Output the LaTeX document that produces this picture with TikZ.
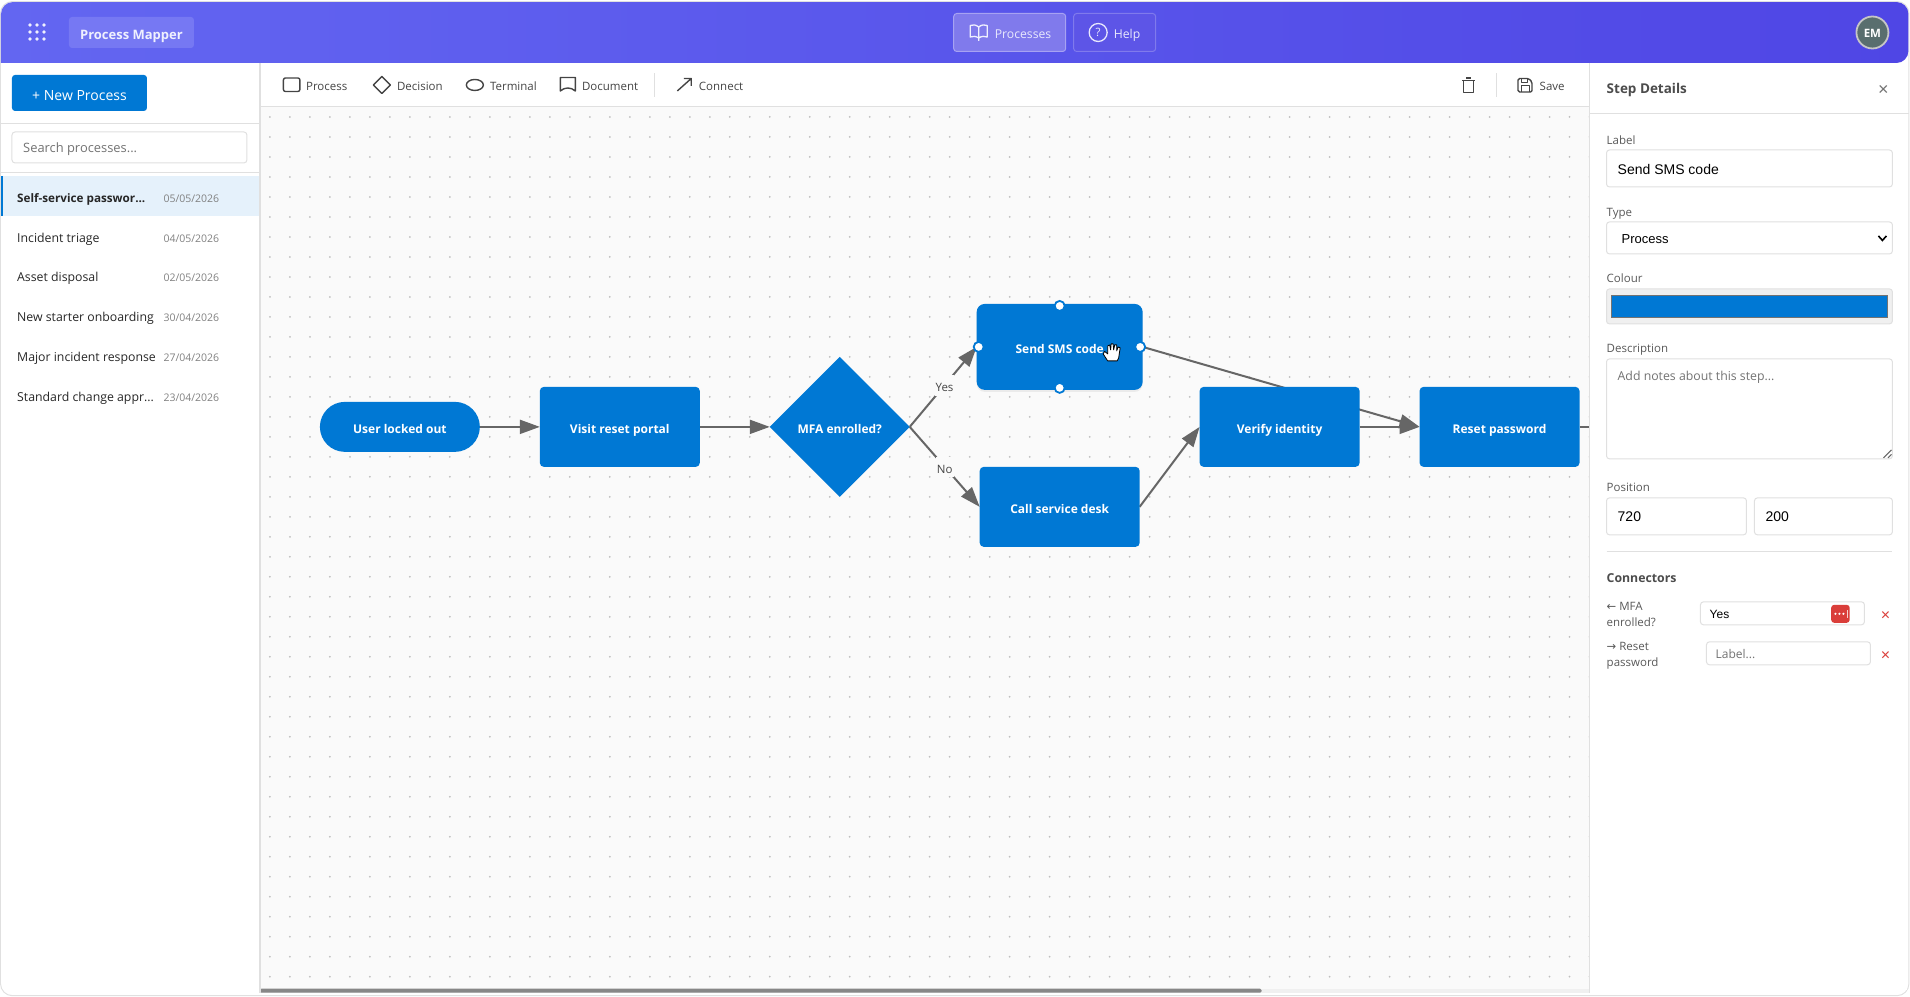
\documentclass[tikz,border=0pt]{standalone}
\usepackage{fontspec}
\usepackage{tikz}
\usetikzlibrary{shapes.geometric, arrows.meta, shadows}
\setmainfont{Open Sans}
\newfontfamily\arialfont{Liberation Sans}
\newfontfamily\symfont{DejaVu Sans}
\newcommand{\fsz}[1]{\fontsize{#1}{#1}\selectfont}
\definecolor{headleft}{RGB}{99,102,241}
\definecolor{headright}{RGB}{79,70,229}
\definecolor{msblue}{RGB}{0,120,212}
\definecolor{canvasbg}{RGB}{250,250,250}
\definecolor{rulegrey}{RGB}{224,224,224}
\definecolor{wiregrey}{RGB}{102,102,102}
\definecolor{iconink}{RGB}{68,68,68}
\definecolor{alertred}{RGB}{218,62,58}
\pgfdeclarelayer{canvas}
\pgfdeclarelayer{wires}
\pgfsetlayers{canvas,wires,main}

\begin{document}
\begin{tikzpicture}[x=1pt, y=-1pt]
    % Define styles
    \tikzstyle{nudged} = [yshift=-2.4pt]
    \tikzstyle{flowbox} = [rectangle, rounded corners=4pt, minimum width=160pt, minimum height=80pt, inner sep=0pt, outer sep=0pt, fill=msblue, text=white, text height=13pt, text depth=0pt, font=\fsz{12}\bfseries]
    \tikzstyle{selectedbox} = [flowbox, rounded corners=8pt, minimum width=166pt, minimum height=86pt, drop shadow={opacity=0.12, shadow xshift=0pt, shadow yshift=-2pt}]
    \tikzstyle{flowterminal} = [flowbox, rounded corners=25pt, minimum height=50pt]
    \tikzstyle{flowdecision} = [diamond, aspect=1, minimum width=140pt, minimum height=140pt, inner sep=0pt, outer sep=0pt, fill=msblue, text=white, text height=13pt, text depth=0pt, font=\fsz{12}\bfseries]
    \tikzstyle{handle} = [circle, minimum size=10pt, inner sep=0pt, fill=white, draw=msblue, line width=1.8pt]
    \tikzstyle{arrow} = [line width=2pt, draw=wiregrey, -{Triangle[length=20pt, width=14pt]}]
    \tikzstyle{edgelabel} = [fill=canvasbg, inner xsep=1pt, inner ysep=4pt, text=iconink, text height=12.5pt, text depth=0pt, font=\fsz{11.5}]
    \tikzstyle{toolicon} = [draw=iconink, line width=1.4pt, line join=round]
    \tikzstyle{toolitem} = [nudged, anchor=mid west, inner sep=0pt, text=iconink, font=\fsz{11.5}]
    \tikzstyle{listitem} = [nudged, anchor=mid west, inner sep=0pt, text=black!85, font=\fsz{12.3}]
    \tikzstyle{listdate} = [nudged, anchor=mid east, inner sep=0pt, text=black!50, font=\fsz{10.5}]
    \tikzstyle{fieldlabel} = [nudged, anchor=mid west, inner sep=0pt, text=black!65, font=\fsz{11.5}]
    \tikzstyle{fieldvalue} = [nudged, anchor=mid west, inner sep=0pt, text=black, font=\arialfont\fsz{14}]
    \tikzstyle{fieldbox} = [draw=rulegrey, line width=1pt, rounded corners=3pt, fill=white]
    \tikzstyle{rule} = [draw=rulegrey, line width=1.2pt]
    \tikzstyle{removemark} = [nudged, inner sep=0pt, text=alertred, font=\arialfont\fsz{16}]

    % Canvas and its dots
    \begin{pgfonlayer}{canvas}
        \fill [canvasbg] (260,107) rectangle (1590,993);
        \foreach \dotx in {270,290,...,1590} {
            \foreach \doty in {117,137,...,977} {
                \fill [black!25] (\dotx,\doty) circle [radius=1pt];
            }
        }
    \end{pgfonlayer}

    % Scrollbar under the canvas
    \fill [black!6] (260,989) rectangle (1590,993);
    \fill [black!47, rounded corners=1.5pt] (260,989) rectangle (1262,993);

    % Frame of the window
    \draw [rulegrey, line width=1pt, rounded corners=12pt] (0.5,1.5) rectangle (1909.5,996);

    % Header bar
    \shade [left color=headleft, right color=headright] (1,63) {[rounded corners=12pt] -- (1,2) -- (1909,2) -- (1909,63)} -- cycle;
    \foreach \gridx in {30,37,44} {
        \foreach \gridy in {25,32,39} {
            \fill [white!90!headleft] (\gridx,\gridy) circle [radius=1.9pt];
        }
    }
    \node (titlepill) [rectangle, rounded corners=3pt, minimum width=125pt, minimum height=31pt, inner sep=0pt, fill=white!12!headleft, text=white!90!headleft, text height=14pt, text depth=0pt, font=\fsz{13}\bfseries] at (131.5,32.5) {Process Mapper};

    \node (processesbtn) [rectangle, rounded corners=3pt, minimum width=112pt, minimum height=38pt, fill=white!28!headright, draw=white!50!headright, line width=1pt] at (1010,32.5) {};
    \node (processeslabel) [nudged, anchor=mid west, inner sep=0pt, text=white!85!headleft, font=\fsz{12.2}] at (995,33) {Processes};
    \draw [white!90!headleft, line width=1.3pt, line join=round] (979,27) .. controls (976,24.5) and (973,24.5) .. (970.5,25.5) -- (970.5,37) .. controls (973,36) and (976,36) .. (979,38) .. controls (982,36) and (985,36) .. (987.5,37) -- (987.5,25.5) .. controls (985,24.5) and (982,24.5) .. (979,27) -- (979,41);

    \node (helpbtn) [rectangle, rounded corners=3pt, minimum width=82pt, minimum height=38pt, fill=white!8!headright, draw=white!28!headright, line width=1pt] at (1115,32.5) {};
    \node (helpicon) [circle, minimum size=18pt, inner sep=0pt, draw=white!85!headleft, line width=1.3pt, text=white!85!headleft, font=\fsz{11.5}] at (1098.5,32.5) {?};
    \node (helplabel) [nudged, anchor=mid west, inner sep=0pt, text=white!85!headleft, font=\fsz{12.2}] at (1114,33) {Help};

    \node (avatar) [circle, minimum size=32pt, inner sep=0pt, fill=black!45!teal!30!gray, draw=white!55!gray, line width=1.8pt, text=white, text height=10.8pt, text depth=0pt, font=\fsz{11.5}\bfseries] at (1873,32.5) {EM};

    % Sidebar
    \node (newprocess) [rectangle, rounded corners=3pt, minimum width=135pt, minimum height=36pt, inner sep=0pt, fill=msblue, text=white, text height=14.5pt, text depth=0pt, font=\fsz{14}] at (79.5,93) {+ New Process};
    \draw [rule] (1,123.5) -- (260,123.5);
    \node (searchbox) [fieldbox, minimum width=235pt, minimum height=31pt, inner sep=0pt] at (129.5,147.5) {};
    \node (searchtext) [nudged, anchor=mid west, inner sep=0pt, text=black!55, font=\fsz{12.9}] at (23,147.5) {Search processes...};
    \draw [rule, line width=0.8pt] (1,172) -- (260,172);
    \fill [msblue!10] (1,176) rectangle (260,216);
    \fill [msblue] (1,176) rectangle (3,216);
    \draw [rule] (260,63) -- (260,993);

    \node (item1) [listitem, font=\fsz{11.7}\bfseries] at (17,197) {Self-service passwor...};
    \node (item2) [listitem] at (17,237) {Incident triage};
    \node (item3) [listitem] at (17,277) {Asset disposal};
    \node (item4) [listitem] at (17,317) {New starter onboarding};
    \node (item5) [listitem] at (17,357) {Major incident response};
    \node (item6) [listitem] at (17,397) {Standard change appr...};

    \node (date1) [listdate] at (219.5,197) {05/05/2026};
    \node (date2) [listdate] at (219.5,237) {04/05/2026};
    \node (date3) [listdate] at (219.5,277) {02/05/2026};
    \node (date4) [listdate] at (219.5,317) {30/04/2026};
    \node (date5) [listdate] at (219.5,357) {27/04/2026};
    \node (date6) [listdate] at (219.5,397) {23/04/2026};

    % Toolbar
    \draw [rule] (260,106.5) -- (1590,106.5);
    \draw [toolicon, rounded corners=2pt] (283.5,78) rectangle (300,91.5);
    \node (toolprocess) [toolitem] at (306,85) {Process};
    \draw [toolicon] (382,76.5) -- (390.5,85) -- (382,93.5) -- (373.5,85) -- cycle;
    \node (tooldecision) [toolitem] at (397,85) {Decision};
    \draw [toolicon] (475,85) ellipse [x radius=8.5pt, y radius=5.5pt];
    \node (toolterminal) [toolitem] at (490,85) {Terminal};
    \draw [toolicon] (560.5,77.5) -- (575.5,77.5) -- (575.5,91) .. controls (571,87) and (565,87) .. (560.5,91) -- cycle;
    \node (tooldocument) [toolitem] at (582,85) {Document};
    \draw [rule, line width=0.8pt] (655,73) -- (655,97);
    \draw [toolicon] (677.5,91) -- (691.5,78.5) (684,78.5) -- (691.5,78.5) -- (691.5,86);
    \node (toolconnect) [toolitem] at (699,85) {Connect};

    \draw [toolicon] (1464,80.5) rectangle (1474,92.5) (1462.5,80.5) -- (1475.5,80.5) (1466.5,78) -- (1471.5,78);
    \draw [rule, line width=0.8pt] (1497,73) -- (1497,97);
    \draw [toolicon, rounded corners=1.5pt] (1518.5,78.5) -- (1529,78.5) -- (1532.5,82) -- (1532.5,92) -- (1518.5,92) -- cycle;
    \draw [toolicon, line width=1pt] (1521.5,92) -- (1521.5,86) -- (1529.5,86) -- (1529.5,92) (1521.5,78.5) -- (1521.5,83) -- (1527.5,83) -- (1527.5,78.5);
    \node (toolsave) [toolitem] at (1540,85) {Save};

    % Step details panel
    \fill [white] (1590.5,64) rectangle (1908,990);
    \draw [rule] (1590,63) -- (1590,993);
    \node (paneltitle) [nudged, anchor=mid west, inner sep=0pt, text=black!70, font=\fsz{13.5}\bfseries] at (1607,88) {Step Details};
    \node (panelclose) [nudged, inner sep=0pt, text=black!55, font=\arialfont\fsz{18}] at (1884,88) {×};
    \draw [rule] (1590,113.5) -- (1910,113.5);

    \node (labeltitle) [fieldlabel] at (1607,139) {Label};
    \node (labelbox) [fieldbox, minimum width=286pt, minimum height=37pt, inner sep=0pt] at (1750,168.5) {};
    \node (labelvalue) [fieldvalue] at (1618,169) {Send SMS code};

    \node (typetitle) [fieldlabel] at (1607,211) {Type};
    \node (typebox) [fieldbox, minimum width=286pt, minimum height=32pt, inner sep=0pt] at (1750,238) {};
    \node (typevalue) [fieldvalue, font=\arialfont\fsz{13}] at (1622,238.5) {Process};
    \draw [black, line width=1.6pt] (1879,236) -- (1883,240.5) -- (1887,236);

    \node (colourtitle) [fieldlabel] at (1607,278) {Colour};
    \node (colourbox) [fieldbox, fill=black!6, minimum width=286pt, minimum height=35pt, inner sep=0pt] at (1750,306.5) {};
    \node (colourswatch) [rectangle, fill=msblue, draw=black!55, line width=1pt, minimum width=276pt, minimum height=22pt, inner sep=0pt] at (1750,307) {};

    \node (desctitle) [fieldlabel] at (1607,348) {Description};
    \node (descbox) [fieldbox, minimum width=286pt, minimum height=100pt, inner sep=0pt] at (1750,409) {};
    \node (descvalue) [nudged, anchor=mid west, inner sep=0pt, text=black!55, font=\fsz{12.3}] at (1618,376) {Add notes about this step...};
    \draw [black!60, line width=1pt] (1884,458) -- (1892,450) (1888.5,458) -- (1892,454.5);

    \node (postitle) [fieldlabel] at (1607,487) {Position};
    \node (posxbox) [fieldbox, minimum width=140pt, minimum height=37pt, inner sep=0pt] at (1677,516.5) {};
    \node (posxvalue) [fieldvalue] at (1618,517) {720};
    \node (posybox) [fieldbox, minimum width=138pt, minimum height=37pt, inner sep=0pt] at (1824,516.5) {};
    \node (posyvalue) [fieldvalue] at (1766,517) {200};
    \draw [rule, line width=1pt] (1607,552) -- (1893,552);

    \node (conntitle) [nudged, anchor=mid west, inner sep=0pt, text=black!70, font=\fsz{12.3}\bfseries] at (1607,578) {Connectors};
    \node (connin) [anchor=north west, inner sep=0pt, align=left, text=black!65, font=\fsz{11.5}, execute at begin node=\setlength{\baselineskip}{16pt}] at (1607,602.5) {{\symfont ←} MFA\\enrolled?};
    \node (conninbox) [fieldbox, minimum width=164pt, minimum height=23pt, inner sep=0pt] at (1783,613.5) {};
    \node (conninvalue) [nudged, anchor=mid west, inner sep=0pt, text=black, font=\arialfont\fsz{12}] at (1710,614) {Yes};
    \node (badge) [rectangle, rounded corners=3pt, minimum width=18.5pt, minimum height=18pt, inner sep=0pt, fill=alertred] at (1841,614) {};
    \foreach \badgex in {1836,1840,1844} {
        \fill [white] (\badgex,614) circle [radius=1.2pt];
    }
    \fill [white!75!alertred] (1847.5,610) rectangle (1849,618);
    \node (conninremove) [removemark] at (1886,613.5) {×};

    \node (connout) [anchor=north west, inner sep=0pt, align=left, text=black!65, font=\fsz{11.5}, execute at begin node=\setlength{\baselineskip}{16pt}] at (1607,642.5) {{\symfont →} Reset\\password};
    \node (connoutbox) [fieldbox, minimum width=164pt, minimum height=23pt, inner sep=0pt] at (1789,653.5) {};
    \node (connoutvalue) [nudged, anchor=mid west, inner sep=0pt, text=black!55, font=\fsz{12}] at (1716,654) {Label...};
    \node (connoutremove) [removemark] at (1886,653.5) {×};

    % Process steps
    \node (locked) [flowterminal] at (400,427) {User locked out};
    \node (portal) [flowbox] at (620,427) {Visit reset portal};
    \node (mfa) [flowdecision] at (840,427) {MFA enrolled?};
    \node (send) [selectedbox] at (1060,347) {Send SMS code};
    \node (desk) [flowbox] at (1060,507) {Call service desk};
    \node (verify) [flowbox] at (1280,427) {Verify identity};
    \node (reset) [flowbox] at (1500,427) {Reset password};
    \coordinate (offcanvas) at (1590,427);

    % Connectors, behind the steps
    \begin{pgfonlayer}{wires}
        \draw [arrow] (locked) -- (portal);
        \draw [arrow] (portal) -- (mfa);
        \draw [arrow] (mfa.east) -- node (yeslabel) [edgelabel, pos=0.52] {Yes} (send.west);
        \draw [arrow] (mfa.east) -- node (nolabel) [edgelabel, pos=0.5] {No} (desk.west);
        \draw [arrow] (desk.east) -- (verify.west);
        \draw [arrow] (send.east) -- (reset.west);
        \draw [arrow] (verify) -- (reset);
        \draw [line width=2pt, wiregrey] (reset.east) -- (offcanvas);
    \end{pgfonlayer}

    % Handles of the selected step
    \node (handletop) [handle] at (1060,306) {};
    \node (handlebottom) [handle] at (1060,388) {};
    \node (handleleft) [handle] at (979,347) {};
    \node (handleright) [handle] at (1140.5,347) {};

    % Mouse pointer
    \draw [fill=white, draw=black, line width=0.8pt, line join=round] (1108,361) -- (1103.5,354) -- (1105,351.5) -- (1108,354) -- (1108,346) -- (1110,345) -- (1111,350) -- (1111.5,344) -- (1113.5,344) -- (1114,350) -- (1115,345) -- (1117,345) -- (1117,351) -- (1118.5,347) -- (1120.5,348) -- (1119,358) -- (1117.5,361) -- cycle;

    \useasboundingbox (0,0) rectangle (1910,993);
\end{tikzpicture}
\end{document}
